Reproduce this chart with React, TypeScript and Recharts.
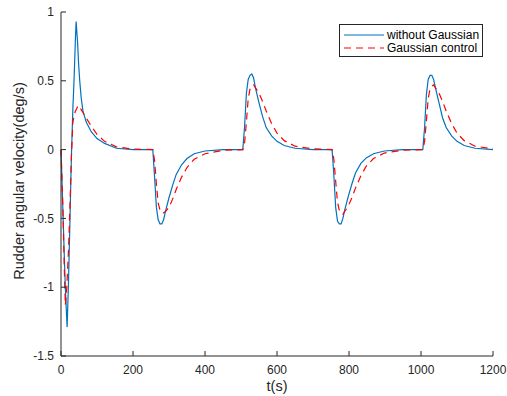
import React from 'react'
import { LineChart, Line, XAxis, YAxis, Legend } from 'recharts'

const time = [
  0, 5, 9, 12, 15, 17, 21, 25, 29, 33, 36, 40, 42, 46, 49, 52, 56, 61, 70, 84, 100, 121, 154, 200,
  255, 260, 265, 270, 275, 280, 285, 290, 300, 310, 320, 335, 350, 370, 400, 450,
  505, 510, 515, 520, 525, 530, 535, 540, 550, 560, 570, 585, 600, 620, 650, 700,
  753, 758, 763, 768, 773, 778, 783, 788, 798, 808, 818, 833, 848, 868, 898, 948,
  1005, 1010, 1015, 1020, 1025, 1030, 1035, 1040, 1050, 1060, 1070, 1085, 1100, 1120, 1150, 1200,
]

const withoutGaussian = [
  0, -0.42, -0.76, -1.0, -1.18, -1.29, -0.95, -0.5, -0.04, 0.3, 0.49, 0.8, 0.93, 0.78, 0.62, 0.5, 0.38, 0.28, 0.2, 0.13, 0.08, 0.045, 0.01, 0,
  0, -0.2, -0.42, -0.51, -0.54, -0.54, -0.51, -0.45, -0.35, -0.26, -0.18, -0.11, -0.065, -0.03, -0.01, 0,
  0, 0.17, 0.41, 0.51, 0.54, 0.55, 0.52, 0.45, 0.34, 0.24, 0.16, 0.1, 0.06, 0.03, 0.01, 0,
  0, -0.19, -0.42, -0.52, -0.54, -0.54, -0.5, -0.44, -0.34, -0.25, -0.17, -0.1, -0.06, -0.03, -0.01, 0,
  0, 0.16, 0.4, 0.51, 0.54, 0.54, 0.51, 0.45, 0.34, 0.23, 0.16, 0.1, 0.06, 0.03, 0.01, 0,
]

const gaussianControl = [
  0, -0.4, -0.85, -1.13, -1.05, -0.95, -0.72, -0.4, -0.05, 0.2, 0.24, 0.28, 0.29, 0.31, 0.32, 0.31, 0.29, 0.27, 0.23, 0.17, 0.11, 0.06, 0.02, 0.003,
  0, -0.08, -0.25, -0.39, -0.44, -0.46, -0.46, -0.45, -0.42, -0.36, -0.29, -0.2, -0.13, -0.07, -0.03, -0.005,
  0, 0.05, 0.2, 0.37, 0.44, 0.46, 0.47, 0.45, 0.41, 0.35, 0.28, 0.19, 0.12, 0.065, 0.025, 0.005,
  0, -0.07, -0.23, -0.38, -0.44, -0.46, -0.47, -0.45, -0.41, -0.35, -0.28, -0.19, -0.12, -0.065, -0.025, -0.005,
  0, 0.06, 0.21, 0.37, 0.44, 0.46, 0.47, 0.45, 0.41, 0.35, 0.28, 0.19, 0.12, 0.065, 0.025, 0.005,
]

const xTicks = [0, 200, 400, 600, 800, 1000, 1200]
const yTicks = [-1.5, -1, -0.5, 0, 0.5, 1]

const data = time.map((t, i) => ({ t, a: withoutGaussian[i], b: gaussianControl[i] }))

const FONT = '"Liberation Sans", Arial, sans-serif'
const BLUE = '#0072BD'
const RED = '#FF0000'
const AXIS = '#262626'

const tickStyle = { fontSize: 12, fill: AXIS, fontFamily: FONT }

const renderLegend = () => (
  <div
    style={{
      border: `1px solid ${AXIS}`,
      background: '#fff',
      fontFamily: FONT,
      fontSize: 12,
      color: '#000',
      padding: '3px 0 2px 3px',
      boxSizing: 'border-box',
      width: 144,
    }}
  >
    {[
      { name: 'without Gaussian', color: BLUE, dash: undefined },
      { name: 'Gaussian control', color: RED, dash: '7 5' },
    ].map((s) => (
      <div key={s.name} style={{ display: 'flex', alignItems: 'center', height: 13 }}>
        <svg width={44} height={10}>
          <line x1={1} x2={41} y1={5} y2={5} stroke={s.color} strokeWidth={1.2} strokeDasharray={s.dash} />
        </svg>
        <span>{s.name}</span>
      </div>
    ))}
  </div>
)

export default function App() {
  return (
    <div style={{ position: 'absolute', left: 0, top: 0, background: '#fff' }}>
      <LineChart width={507} height={396} data={data} margin={{ top: 12, right: 14, bottom: 0, left: 21 }}>
        <XAxis
          dataKey="t"
          type="number"
          domain={[0, 1200]}
          ticks={xTicks}
          height={40}
          stroke={AXIS}
          tickSize={-5}
          tickMargin={14}
          tick={tickStyle}
          label={{
            content: (p: any) => (
              <text x={p.viewBox.x + p.viewBox.width / 2} y={391} textAnchor="middle" fontSize={14.5} fontFamily={FONT} fill={AXIS}>
                t(s)
              </text>
            ),
          }}
        />
        <XAxis xAxisId="top" orientation="top" dataKey="t" type="number" domain={[0, 1200]} ticks={xTicks} height={0} stroke={AXIS} tickSize={-5} tick={false} />
        <YAxis
          type="number"
          domain={[-1.5, 1]}
          ticks={yTicks}
          width={40}
          stroke={AXIS}
          tickSize={-5}
          tickMargin={12}
          tick={tickStyle}
          label={{
            content: () => (
              <text
                x={24}
                y={181}
                transform={`rotate(-90 24 181)`}
                textAnchor="middle"
                fontSize={14.5}
                fontFamily={FONT}
                fill={AXIS}
              >
                Rudder angular velocity(deg/s)
              </text>
            ),
          }}
        />
        <YAxis yAxisId="right" orientation="right" type="number" domain={[-1.5, 1]} ticks={yTicks} width={0} stroke={AXIS} tickSize={-5} tick={false} />
        <Legend layout="vertical" align="center" verticalAlign="middle" content={renderLegend} wrapperStyle={{ left: 339, top: 24, width: 144 }} />
        <Line type="linear" dataKey="a" name="without Gaussian" stroke={BLUE} strokeWidth={1.2} dot={false} isAnimationActive={false} />
        <Line type="linear" dataKey="b" name="Gaussian control" stroke={RED} strokeWidth={1.2} strokeDasharray="7 5" dot={false} isAnimationActive={false} />
      </LineChart>
    </div>
  )
}
